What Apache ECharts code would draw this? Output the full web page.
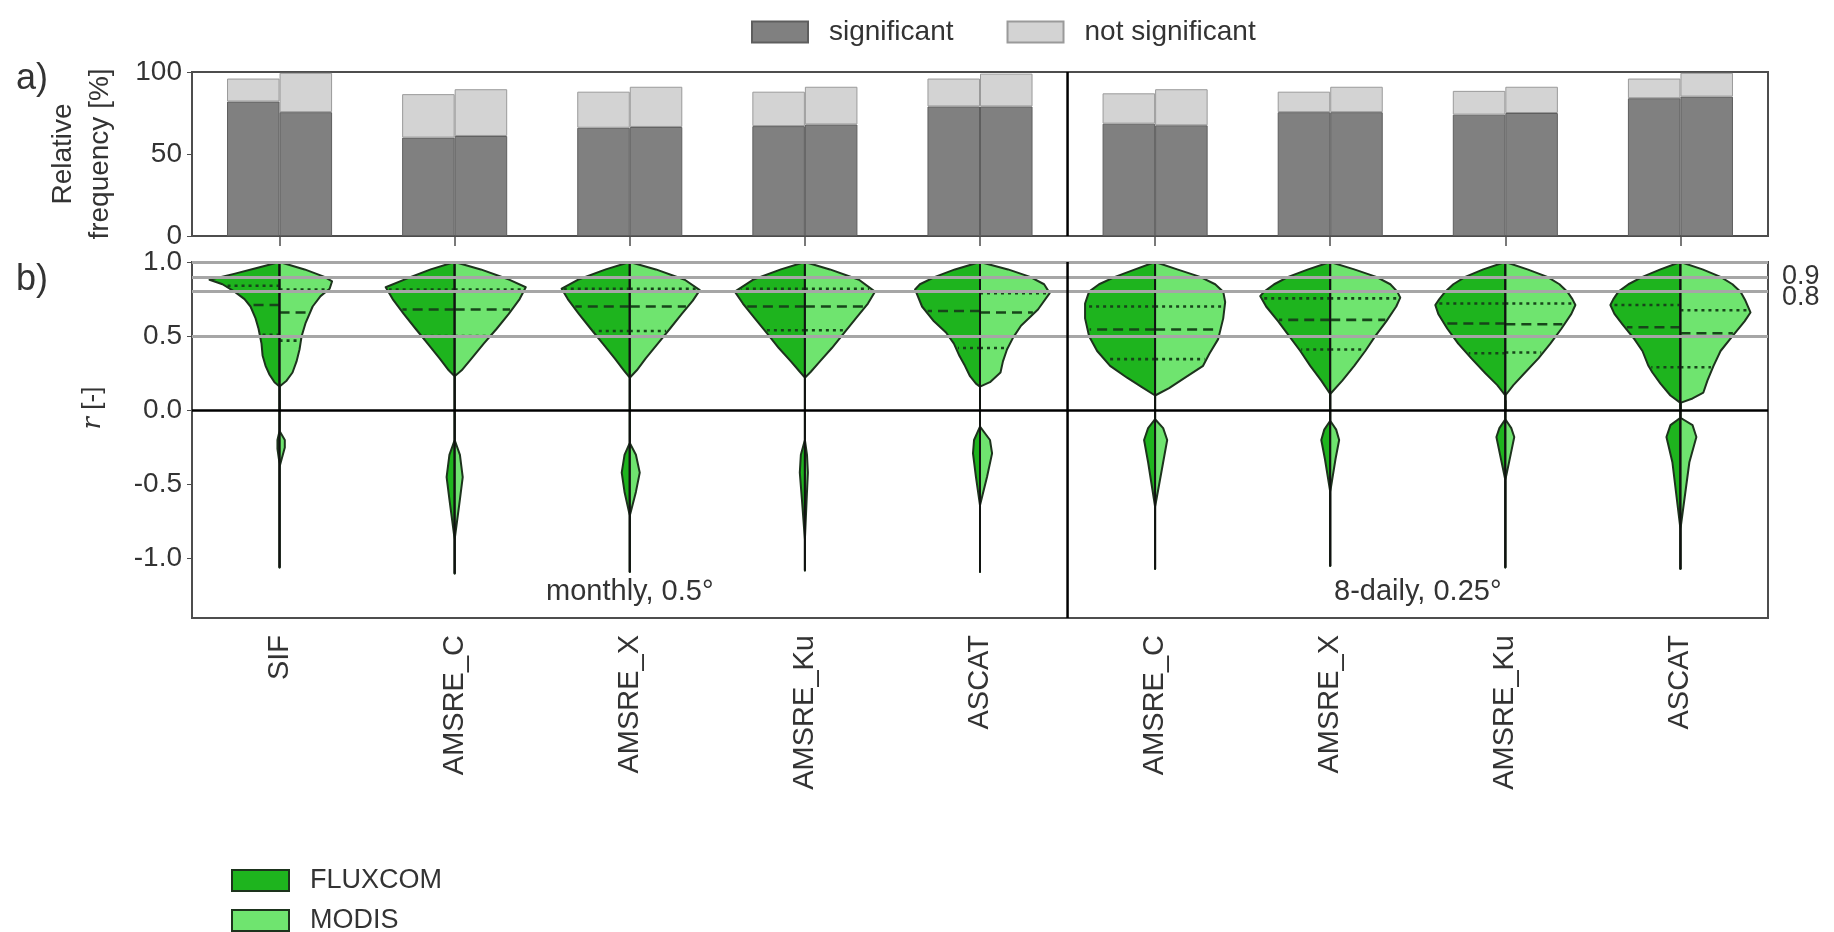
<!DOCTYPE html>
<html>
<head>
<meta charset="utf-8">
<script src="https://cdn.jsdelivr.net/npm/echarts@6/dist/echarts.min.js"></script>
<style>
html,body{margin:0;padding:0;background:#fff;}
#chart{width:1834px;height:932px;}
</style>
</head>
<body>
<div id="chart"></div>
<script>
// ---------- DATA ----------
const categories = ['SIF','AMSRE_C','AMSRE_X','AMSRE_Ku','ASCAT','AMSRE_C','AMSRE_X','AMSRE_Ku','ASCAT'];
const periodSplit = 5; // first 5 categories: monthly; rest: 8-daily
const periodLabels = ['monthly, 0.5°', '8-daily, 0.25°'];
const violinNames = ['FLUXCOM', 'MODIS'];

// panel a: relative frequency [%]
const fluxcomTotal = [96, 86.5, 88, 88, 96, 87, 88, 88.5, 96];
const fluxcomSignificant = [82, 60, 66, 67, 79, 68.5, 75.5, 74, 84];
const modisTotal = [99.5, 89.5, 91, 91, 99, 89.5, 91, 91, 99.5];
const modisSignificant = [75.5, 61, 66.5, 68, 79, 67.5, 75.5, 75, 85];

// panel b: reference lines
const refLines = [1.0, 0.9, 0.8, 0.5];
const labeledRefs = [0.9, 0.8];
const zeroLine = 0.0;
const rTicks = [-1.0, -0.5, 0.0, 0.5, 1.0];

// violin half profiles: [r, half-width as fraction of category width]
const fluxcomShape = [
  [[1.0,0],[0.96,.13],[0.92,.26],[0.88,.40],[0.85,.326],[0.80,.257],[0.75,.20],[0.70,.166],[0.62,.137],[0.55,.12],[0.45,.103],[0.37,.097],[0.30,.08],[0.24,.057],[0.19,.029],[0.16,0],[-0.14,0],[-0.2,.012],[-0.26,.012],[-0.36,0],[-1.06,0]],
  [[1.0,0],[0.95,.137],[0.88,.291],[0.83,.394],[0.75,.354],[0.65,.291],[0.55,.223],[0.45,.154],[0.35,.086],[0.27,.034],[0.23,0],[-0.2,0],[-0.3,.03],[-0.45,.046],[-0.6,.03],[-0.87,0],[-1.10,0]],
  [[1.0,0],[0.95,.137],[0.88,.297],[0.82,.389],[0.75,.354],[0.65,.291],[0.55,.223],[0.45,.154],[0.35,.086],[0.27,.034],[0.22,0],[-0.22,0],[-0.3,.03],[-0.42,.046],[-0.55,.03],[-0.71,0],[-1.09,0]],
  [[1.0,0],[0.95,.137],[0.88,.297],[0.80,.40],[0.72,.354],[0.62,.286],[0.52,.217],[0.42,.149],[0.33,.08],[0.26,.029],[0.22,0],[-0.2,0],[-0.3,.023],[-0.42,.029],[-0.6,.017],[-0.87,0],[-1.08,0]],
  [[1.0,0],[0.95,.143],[0.90,.257],[0.85,.343],[0.815,.371],[0.70,.331],[0.60,.263],[0.525,.194],[0.45,.149],[0.366,.117],[0.30,.086],[0.23,.057],[0.18,.023],[0.16,0],[-0.11,0],[-0.2,.034],[-0.29,.04],[-0.45,.023],[-0.64,0],[-1.09,0]],
  [[1.0,0],[0.95,.114],[0.90,.229],[0.85,.32],[0.80,.377],[0.72,.40],[0.62,.40],[0.50,.377],[0.40,.331],[0.30,.257],[0.22,.16],[0.16,.08],[0.10,0],[-0.06,0],[-0.12,.04],[-0.2,.063],[-0.35,.04],[-0.65,0],[-1.07,0]],
  [[1.0,0],[0.95,.126],[0.90,.24],[0.85,.32],[0.80,.377],[0.77,.40],[0.70,.366],[0.60,.297],[0.50,.234],[0.40,.171],[0.30,.114],[0.20,.051],[0.11,0],[-0.07,0],[-0.13,.034],[-0.2,.051],[-0.33,.03],[-0.55,0],[-1.05,0]],
  [[1.0,0],[0.95,.126],[0.90,.229],[0.85,.297],[0.80,.343],[0.75,.377],[0.71,.40],[0.65,.383],[0.55,.331],[0.45,.269],[0.35,.194],[0.25,.114],[0.17,.046],[0.10,0],[-0.06,0],[-0.12,.034],[-0.18,.051],[-0.3,.03],[-0.47,0],[-1.06,0]],
  [[1.0,0],[0.95,.114],[0.90,.217],[0.85,.297],[0.80,.354],[0.75,.383],[0.71,.40],[0.65,.377],[0.58,.331],[0.48,.263],[0.40,.217],[0.30,.183],[0.255,.16],[0.18,.114],[0.10,.057],[0.05,0],[-0.05,0],[-0.1,.057],[-0.18,.08],[-0.35,.046],[-0.8,0],[-1.07,0]]
];
const modisShape = [
  [[1.0,0],[0.95,.143],[0.90,.257],[0.87,.30],[0.82,.286],[0.77,.234],[0.70,.189],[0.59,.149],[0.50,.126],[0.41,.114],[0.33,.097],[0.255,.074],[0.20,.04],[0.16,0],[-0.14,0],[-0.2,.03],[-0.25,.03],[-0.38,0],[-1.06,0]],
  [[1.0,0],[0.95,.149],[0.88,.314],[0.83,.406],[0.75,.371],[0.65,.309],[0.55,.24],[0.45,.166],[0.35,.097],[0.27,.04],[0.23,0],[-0.2,0],[-0.3,.03],[-0.45,.046],[-0.6,.03],[-0.87,0],[-1.10,0]],
  [[1.0,0],[0.95,.149],[0.88,.314],[0.81,.40],[0.74,.36],[0.65,.297],[0.55,.229],[0.45,.16],[0.35,.091],[0.27,.04],[0.22,0],[-0.22,0],[-0.3,.035],[-0.42,.057],[-0.55,.035],[-0.71,0],[-1.09,0]],
  [[1.0,0],[0.95,.143],[0.88,.309],[0.80,.40],[0.72,.36],[0.62,.291],[0.52,.223],[0.42,.154],[0.33,.086],[0.26,.034],[0.22,0],[-0.2,0],[-0.3,.012],[-0.42,.017],[-0.6,.01],[-0.87,0],[-1.08,0]],
  [[1.0,0],[0.95,.16],[0.90,.286],[0.85,.366],[0.79,.398],[0.68,.331],[0.57,.234],[0.49,.189],[0.41,.154],[0.33,.131],[0.255,.117],[0.19,.057],[0.16,0],[-0.11,0],[-0.2,.057],[-0.29,.069],[-0.45,.04],[-0.64,0],[-1.09,0]],
  [[1.0,0],[0.95,.126],[0.90,.257],[0.85,.343],[0.80,.389],[0.73,.40],[0.62,.389],[0.48,.36],[0.38,.309],[0.30,.274],[0.22,.171],[0.15,.08],[0.10,0],[-0.06,0],[-0.12,.046],[-0.2,.069],[-0.35,.046],[-0.65,0],[-1.07,0]],
  [[1.0,0],[0.95,.137],[0.90,.263],[0.85,.343],[0.80,.383],[0.76,.40],[0.70,.377],[0.60,.32],[0.50,.257],[0.40,.20],[0.30,.137],[0.20,.069],[0.11,0],[-0.07,0],[-0.13,.034],[-0.2,.051],[-0.33,.03],[-0.55,0],[-1.05,0]],
  [[1.0,0],[0.95,.126],[0.90,.24],[0.85,.309],[0.80,.354],[0.75,.383],[0.71,.40],[0.65,.377],[0.55,.32],[0.45,.257],[0.35,.189],[0.25,.109],[0.17,.046],[0.10,0],[-0.06,0],[-0.12,.034],[-0.18,.051],[-0.3,.03],[-0.47,0],[-1.06,0]],
  [[1.0,0],[0.95,.126],[0.90,.229],[0.85,.297],[0.80,.343],[0.74,.371],[0.66,.40],[0.60,.366],[0.50,.297],[0.40,.229],[0.30,.189],[0.20,.154],[0.12,.131],[0.08,.069],[0.05,0],[-0.05,0],[-0.1,.069],[-0.18,.091],[-0.35,.051],[-0.8,0],[-1.07,0]]
];
// quartiles [q3, median, q1]
const fluxcomQuartiles = [[0.84,0.71,0.51],[0.815,0.68,0.50],[0.82,0.70,0.535],[0.82,0.70,0.54],[0.80,0.67,0.42],[0.70,0.545,0.345],[0.755,0.61,0.41],[0.72,0.585,0.385],[0.71,0.56,0.29]];
const modisQuartiles = [[0.815,0.66,0.47],[0.815,0.68,0.50],[0.82,0.70,0.535],[0.82,0.70,0.54],[0.79,0.66,0.42],[0.70,0.545,0.345],[0.755,0.61,0.41],[0.72,0.58,0.39],[0.675,0.52,0.29]];

// ---------- STYLE ----------
const FONT = '"Liberation Sans", Arial, Helvetica, sans-serif';
const TXT = '#333';
const FRAME = '#4d4d4d';
const C_SIG = '#808080', C_NS = '#d3d3d3';
const C_FLUX = '#1eb41e', C_MODIS = '#6fe46f';
const OUTLINE = '#1d331d';

const chart = echarts.init(document.getElementById('chart'), null, {renderer: 'canvas'});
const idx = categories.map((c, i) => String(i));

function interpWidth(prof, r) {
  for (let k = 0; k < prof.length - 1; k++) {
    const [r0, w0] = prof[k], [r1, w1] = prof[k + 1];
    if (r <= r0 && r >= r1) {
      const t = r0 === r1 ? 0 : (r0 - r) / (r0 - r1);
      return w0 + t * (w1 - w0);
    }
  }
  return 0;
}

function makeHalf(shapes, quarts, side, color) {
  return function (params, api) {
    const i = api.value(0);
    const band = api.size([1, 0])[0];
    const prof = shapes[i];
    const cx = api.coord([i, 0])[0];
    const pts = prof.map(([r, w]) => [cx + side * w * band, api.coord([i, r])[1]]);
    const top = prof[0][0], bot = prof[prof.length - 1][0];
    pts.push([cx, api.coord([i, bot])[1]]);
    pts.push([cx, api.coord([i, top])[1]]);
    const children = [{
      type: 'polygon', shape: {points: pts},
      style: {fill: color, stroke: OUTLINE, lineWidth: 2, lineJoin: 'round'}
    }];
    quarts[i].forEach((q, k) => {
      const w = interpWidth(prof, q);
      const y = api.coord([i, q])[1];
      children.push({
        type: 'line',
        shape: {x1: cx, y1: y, x2: cx + side * (w * band - 2), y2: y},
        style: {stroke: '#17451a', lineWidth: 2.6, lineDash: k === 1 ? [10, 6] : [3, 4]}
      });
    });
    children.push({
      type: 'line',
      shape: {x1: cx, y1: api.coord([i, top])[1], x2: cx, y2: api.coord([i, bot])[1]},
      style: {stroke: '#111', lineWidth: 1.8}
    });
    return {type: 'group', children};
  };
}

function dividerItem(params, api) {
  const cs = params.coordSys;
  const x = (api.coord([periodSplit - 1, 0])[0] + api.coord([periodSplit, 0])[0]) / 2;
  return {type: 'line', shape: {x1: x, y1: cs.y, x2: x, y2: cs.y + cs.height},
          style: {stroke: '#000', lineWidth: 2.5}};
}

const periodRanges = [[0, periodSplit - 1], [periodSplit, categories.length - 1]];

const legendText = {fontSize: 27, lineHeight: 22, color: TXT, fontFamily: FONT, padding: [0, 0, 0, 16]};

const option = {
  animation: false,
  backgroundColor: '#fff',
  textStyle: {fontFamily: FONT},
  grid: [
    {left: 192, right: 66, top: 72, height: 164, show: true, borderColor: FRAME, borderWidth: 2, backgroundColor: 'transparent'},
    {left: 192, right: 66, top: 262, height: 356, show: true, borderColor: FRAME, borderWidth: 2, backgroundColor: 'transparent'}
  ],
  legend: [
    {data: ['significant', 'not significant'], left: 751, top: 18, padding: 0, itemWidth: 56, itemHeight: 21, itemGap: 53,
     icon: 'rect', textStyle: {fontSize: 28, lineHeight: 22, color: TXT, fontFamily: FONT, padding: [0, 0, 0, 16]}},
    {data: [violinNames[0]], left: 231, top: 867, padding: 0, itemWidth: 57, itemHeight: 21,
     icon: 'rect', textStyle: legendText},
    {data: [violinNames[1]], left: 231, top: 907, padding: 0, itemWidth: 57, itemHeight: 21,
     icon: 'rect', textStyle: legendText}
  ],
  xAxis: [
    {type: 'category', gridIndex: 0, data: idx, position: 'top', boundaryGap: true,
     axisLine: {show: false}, axisLabel: {show: false},
     axisTick: {show: true, inside: true, alignWithLabel: true, length: 10, lineStyle: {color: FRAME, width: 1.5}}},
    {type: 'category', gridIndex: 1, data: idx, position: 'bottom', boundaryGap: true,
     axisLine: {show: false},
     axisTick: {show: true, inside: true, alignWithLabel: true, length: 10, lineStyle: {color: FRAME, width: 1.5}},
     axisLabel: {rotate: 90, fontSize: 29, color: TXT, margin: 17, fontFamily: FONT,
                 formatter: v => categories[+v]}}
  ],
  yAxis: [
    {type: 'value', gridIndex: 0, min: 0, max: 100, interval: 50,
     axisLine: {show: false}, splitLine: {show: false},
     axisTick: {show: true, length: 5, lineStyle: {color: FRAME}},
     axisLabel: {fontSize: 28, color: TXT, margin: 10, fontFamily: FONT}},
    {type: 'value', gridIndex: 1, min: -1.4, max: 1.0,
     axisLine: {show: false}, splitLine: {show: false},
     axisTick: {show: true, length: 5, lineStyle: {color: FRAME}, customValues: rTicks},
     axisLabel: {fontSize: 28, color: TXT, margin: 10, fontFamily: FONT, customValues: rTicks,
                 formatter: v => Number(v).toFixed(1)}}
  ],
  series: [
    {name: 'significant', type: 'bar', stack: 'f', xAxisIndex: 0, yAxisIndex: 0, barWidth: '30%', barGap: '0%',
     itemStyle: {color: C_SIG, borderColor: '#5e5e5e', borderWidth: 1}, data: fluxcomSignificant},
    {name: 'not significant', type: 'bar', stack: 'f', xAxisIndex: 0, yAxisIndex: 0, barWidth: '30%', barGap: '0%',
     itemStyle: {color: C_NS, borderColor: '#9a9a9a', borderWidth: 1},
     data: fluxcomTotal.map((t, i) => +(t - fluxcomSignificant[i]).toFixed(2))},
    {name: 'significant', type: 'bar', stack: 'm', xAxisIndex: 0, yAxisIndex: 0, barWidth: '30%', barGap: '0%',
     itemStyle: {color: C_SIG, borderColor: '#5e5e5e', borderWidth: 1}, data: modisSignificant},
    {name: 'not significant', type: 'bar', stack: 'm', xAxisIndex: 0, yAxisIndex: 0, barWidth: '30%', barGap: '0%',
     itemStyle: {color: C_NS, borderColor: '#9a9a9a', borderWidth: 1},
     data: modisTotal.map((t, i) => +(t - modisSignificant[i]).toFixed(2))},
    {name: 'divA', type: 'custom', xAxisIndex: 0, yAxisIndex: 0, renderItem: dividerItem,
     data: [[periodSplit, 50]], z: 5, silent: true},
    {name: 'refs', type: 'line', xAxisIndex: 1, yAxisIndex: 1, data: [], z: 1,
     markLine: {silent: true, symbol: ['none', 'none'], animation: false,
       data: refLines.map(v => ({
         yAxis: v,
         lineStyle: {color: '#a6a6a6', width: 3, type: 'solid'},
         label: {show: false}
       })).concat([{yAxis: zeroLine, lineStyle: {color: '#000', width: 2.5, type: 'solid'}, label: {show: false}}])
     }},
    {name: 'refLabels', type: 'custom', xAxisIndex: 1, yAxisIndex: 1, z: 4, silent: true, clip: false,
     encode: {x: 0, y: 1},
     renderItem: function (params, api) {
       const cs = params.coordSys;
       const v = api.value(1);
       const y = api.coord([0, v])[1] + (params.dataIndex === 1 ? 6 : 0);
       return {type: 'text', x: cs.x + cs.width + 14, y: y,
               style: {text: v.toFixed(1), fontSize: 27, fill: TXT, fontFamily: FONT,
                       align: 'left', verticalAlign: 'middle'}};
     },
     data: labeledRefs.map(v => [0, v])},
    {name: 'divB', type: 'custom', xAxisIndex: 1, yAxisIndex: 1, renderItem: dividerItem,
     data: [[periodSplit, 0]], z: 5, silent: true},
    {name: violinNames[0], type: 'custom', xAxisIndex: 1, yAxisIndex: 1, z: 3, clip: false,
     itemStyle: {color: C_FLUX, borderColor: OUTLINE, borderWidth: 1},
     encode: {x: 0, y: 1},
     renderItem: makeHalf(fluxcomShape, fluxcomQuartiles, -1, C_FLUX),
     data: fluxcomQuartiles.map((q, i) => [i, q[1]])},
    {name: violinNames[1], type: 'custom', xAxisIndex: 1, yAxisIndex: 1, z: 3, clip: false,
     itemStyle: {color: C_MODIS, borderColor: OUTLINE, borderWidth: 1},
     encode: {x: 0, y: 1},
     renderItem: makeHalf(modisShape, modisQuartiles, 1, C_MODIS),
     data: modisQuartiles.map((q, i) => [i, q[1]])},
    {name: 'periods', type: 'custom', xAxisIndex: 1, yAxisIndex: 1, z: 4, silent: true,
     renderItem: function (params, api) {
       const a = api.value(0), b = api.value(1);
       const x = (api.coord([a, 0])[0] + api.coord([b, 0])[0]) / 2;
       const y = api.coord([a, -1.225])[1];
       return {type: 'text', x: x, y: y,
               style: {text: periodLabels[params.dataIndex], fontSize: 29, fill: TXT, fontFamily: FONT,
                       align: 'center', verticalAlign: 'middle'}};
     },
     data: periodRanges}
  ],
  graphic: [
    {type: 'text', x: 16, y: 79, style: {text: 'a)', fontSize: 36, fill: TXT, fontFamily: FONT, verticalAlign: 'middle'}},
    {type: 'text', x: 16, y: 280, style: {text: 'b)', fontSize: 36, fill: TXT, fontFamily: FONT, verticalAlign: 'middle'}},
    {type: 'text', x: 82, y: 154, rotation: Math.PI / 2,
     style: {text: 'Relative\nfrequency [%]', fontSize: 28, lineHeight: 37, fill: TXT, fontFamily: FONT,
             align: 'center', verticalAlign: 'middle'}},
    {type: 'text', x: 93, y: 408, rotation: Math.PI / 2,
     style: {text: '{i|r} [-]', fontSize: 26, fill: TXT, fontFamily: FONT, align: 'center', verticalAlign: 'middle',
             rich: {i: {fontFamily: '"DejaVu Serif", serif', fontStyle: 'italic', fontSize: 26, fill: TXT}}}}
  ]
};
chart.setOption(option);
</script>
</body>
</html>
